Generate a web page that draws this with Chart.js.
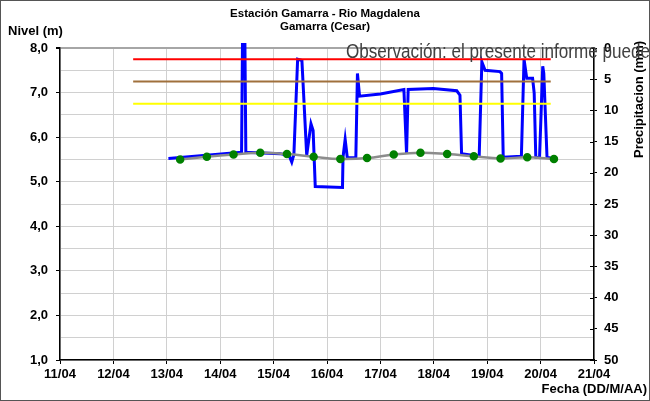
<!DOCTYPE html>
<html lang="es">
  <head>
    <title>Estación Gamarra - Rio Magdalena</title>
    <meta charset="utf-8" />
    <style>
      html, body { margin: 0; padding: 0; background: #fff; }
    </style>
  </head>
  <body>
    <canvas id="lienzo" width="650" height="401"></canvas>

    <script src="https://cdn.jsdelivr.net/npm/chart.js"></script>
    <script>
      // etiquetas del eje x (dia 11 .. 21 de abril)
      const fechas = ["11/04", "12/04", "13/04", "14/04", "15/04", "16/04", "17/04", "18/04", "19/04", "20/04", "21/04"];

      // nivel del rio (m), dia decimal de abril
      const nivelDia = [13.03, 14.40, 14.42, 14.46, 14.48, 15.12, 15.29, 15.34, 15.38, 15.45, 15.53, 15.62, 15.70, 15.74, 15.78,
        16.29, 16.30, 16.34, 16.38, 16.54, 16.57, 16.61, 17.00, 17.44, 17.49, 17.52, 17.99, 18.43, 18.49, 18.52, 18.85,
        18.90, 18.96, 19.24, 19.27, 19.30, 19.64, 19.69, 19.74, 19.85, 19.88, 19.91, 19.98, 20.04, 20.06, 20.12, 20.21];
      const nivel = [5.52, 5.66, 8.5, 8.5, 5.66, 5.63, 5.59, 5.44, 5.61, 7.75, 7.72, 5.59, 6.30, 6.15, 4.89,
        4.87, 5.55, 5.95, 5.54, 5.54, 7.43, 6.92, 6.97, 7.07, 5.63, 7.07, 7.09, 7.04, 6.94, 5.63, 5.57,
        7.69, 7.50, 7.47, 7.43, 5.55, 5.57, 7.75, 7.32, 7.32, 6.99, 5.55, 5.54, 7.59, 7.43, 5.55, 5.52];

      // curva gris con puntos verdes
      const tendenciaDia = [13.25, 13.75, 14.25, 14.75, 15.25, 15.75, 16.25, 16.75, 17.25, 17.75, 18.25, 18.75, 19.25, 19.75, 20.25];
      const tendencia = [5.50, 5.56, 5.61, 5.65, 5.62, 5.56, 5.51, 5.53, 5.61, 5.65, 5.62, 5.57, 5.52, 5.55, 5.51];

      // niveles de alerta
      const umbralInicio = 12.37;
      const umbralFin = 20.19;
      const umbralRojo = 7.75;
      const umbralNaranja = 7.25;
      const umbralAmarillo = 6.75;

      // precipitacion (mm): sin registros
      const precipitacion = [];

      const fuente = '"Liberation Sans", Arial, sans-serif';

      function puntos(xs, ys) {
        return xs.map((x, i) => ({ x: x, y: ys[i] }));
      }

      function umbral(valor, color) {
        return {
          data: [{ x: umbralInicio, y: valor }, { x: umbralFin, y: valor }],
          borderColor: color,
          borderWidth: 2,
          pointRadius: 0,
          yAxisID: "y",
        };
      }

      const textos = {
        id: "textos",
        afterDraw(chart) {
          const ctx = chart.ctx;
          const area = chart.chartArea;
          ctx.save();

          // marcas interiores del eje derecho
          const y2 = chart.scales.y2;
          ctx.strokeStyle = "#000";
          ctx.lineWidth = 1;
          y2.ticks.forEach((t) => {
            const y = Math.round(y2.getPixelForValue(t.value)) + 0.5;
            ctx.beginPath();
            ctx.moveTo(area.right - 4, y);
            ctx.lineTo(area.right, y);
            ctx.stroke();
          });

          ctx.fillStyle = "#000";
          ctx.font = "bold 11.5px " + fuente;
          ctx.textAlign = "center";
          ctx.textBaseline = "middle";
          ctx.fillText("Estación Gamarra - Rio Magdalena", 325, 14);
          ctx.fillText("Gamarra (Cesar)", 325, 27);

          ctx.font = "bold 13px " + fuente;
          ctx.textAlign = "left";
          ctx.fillText("Nivel (m)", 8, 31);

          ctx.textAlign = "right";
          ctx.fillText("Fecha (DD/M/AA)", 647, 389);

          ctx.save();
          ctx.translate(639, 158);
          ctx.rotate(-Math.PI / 2);
          ctx.textAlign = "left";
          ctx.fillText("Precipitacion (mm)", 0, 0);
          ctx.restore();

          // nota en letra estrecha
          const nota = "Observación: el presente informe puede estar sujeto a cambios";
          ctx.save();
          ctx.fillStyle = "#404040";
          ctx.font = "20px " + fuente;
          ctx.textAlign = "left";
          ctx.textBaseline = "alphabetic";
          const ancho = ctx.measureText("Observación: el presente informe puede").width;
          ctx.translate(346, 58);
          ctx.scale(304 / ancho, 1);
          ctx.fillText(nota, 0, 0);
          ctx.restore();

          ctx.strokeStyle = "#555";
          ctx.strokeRect(0.5, 0.5, 649, 400);
          ctx.restore();
        },
      };

      const fuenteTick = { family: fuente, size: 13, weight: "bold" };

      const contexto = document.querySelector("#lienzo");
      const grafico = new Chart(contexto, {
        type: "line",
        data: {
          datasets: [
            umbral(umbralRojo, "#ff0000"),
            umbral(umbralNaranja, "#a0703c"),
            umbral(umbralAmarillo, "#ffff00"),
            {
              data: puntos(tendenciaDia, tendencia),
              borderColor: "#8c8c8c",
              borderWidth: 2.5,
              tension: 0.4,
              pointRadius: 3,
              pointBackgroundColor: "#008000",
              pointBorderColor: "#008000",
              yAxisID: "y",
            },
            {
              data: puntos(nivelDia, nivel),
              borderColor: "#0000ff",
              borderWidth: 3,
              pointRadius: 0,
              tension: 0,
              clip: { left: 0, top: 5, right: 0, bottom: 0 },
              yAxisID: "y",
            },
            {
              type: "bar",
              data: precipitacion,
              backgroundColor: "#00b0f0",
              yAxisID: "y2",
            },
          ],
        },
        options: {
          responsive: false,
          animation: false,
          events: [],
          layout: { padding: { top: 48, left: 0, right: 0, bottom: 0 } },
          plugins: {
            legend: { display: false },
            title: { display: false },
            tooltip: { enabled: false },
          },
          scales: {
            x: {
              type: "linear",
              position: "bottom",
              min: 11,
              max: 21,
              offset: false,
              afterFit: (s) => { s.height = 41; },
              ticks: {
                stepSize: 1,
                maxRotation: 0,
                autoSkip: false,
                padding: 3,
                color: "#000",
                font: fuenteTick,
                callback: (v) => fechas[Math.round(v - 11)],
              },
              grid: { offset: false, color: "#d0d0d0", tickColor: "#000", tickLength: 4 },
              border: { color: "#000", width: 1.5 },
            },
            y: {
              position: "left",
              min: 1,
              max: 8,
              afterFit: (s) => { s.width = 60; },
              ticks: {
                stepSize: 0.5,
                autoSkip: false,
                padding: 8,
                color: "#000",
                font: fuenteTick,
                callback: (v) => (Number.isInteger(v) ? v.toFixed(1).replace(".", ",") : ""),
              },
              grid: {
                color: (c) => (c.tick && c.tick.value === 8 ? "#a6a6a6" : "#d0d0d0"),
                lineWidth: (c) => (c.tick && c.tick.value === 8 ? 2 : 1),
                tickColor: (c) => (c.tick && Number.isInteger(c.tick.value) ? "#000" : "rgba(0,0,0,0)"),
                tickLength: 4,
              },
              border: { color: "#000", width: 1.5 },
            },
            y2: {
              position: "right",
              min: 0,
              max: 50,
              reverse: true,
              afterFit: (s) => { s.width = 56; },
              ticks: {
                stepSize: 5,
                autoSkip: false,
                padding: 7,
                color: "#000",
                font: fuenteTick,
              },
              grid: { drawOnChartArea: false, tickColor: "#000", tickLength: 3 },
              border: { color: "#000", width: 1.5 },
            },
          },
        },
        plugins: [textos],
      });
    </script>
  </body>
</html>
